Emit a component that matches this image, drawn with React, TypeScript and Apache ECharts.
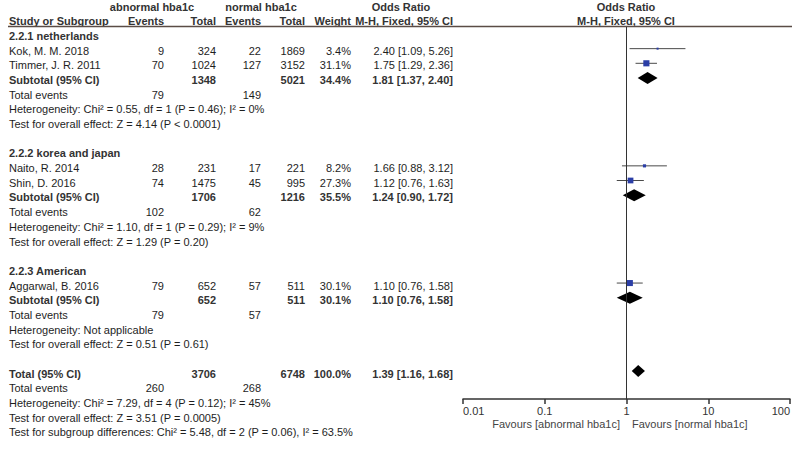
import React, { useEffect, useRef } from "react";
import * as echarts from "echarts";

// ---- data ----
const subgroupNames = ["2.2.1 netherlands", "2.2.2 korea and japan", "2.2.3 American"];
const subgroupHeaderRows = [0, 8, 16];

const studyNames = ["Kok, M. M. 2018", "Timmer, J. R. 2011", "Naito, R. 2014", "Shin, D. 2016", "Aggarwal, B. 2016"];
const studyRows = [1, 2, 9, 10, 17];
const abnEvents = [9, 70, 28, 74, 79];
const abnTotal = [324, 1024, 231, 1475, 652];
const norEvents = [22, 127, 17, 45, 57];
const norTotal = [1869, 3152, 221, 995, 511];
const studyWeights = [3.4, 31.1, 8.2, 27.3, 30.1];
const studyOR = [2.4, 1.75, 1.66, 1.12, 1.1];
const studyLo = [1.09, 1.29, 0.88, 0.76, 0.76];
const studyHi = [5.26, 2.36, 3.12, 1.63, 1.58];

const subRows = [3, 11, 18];
const subAbnTotal = [1348, 1706, 652];
const subNorTotal = [5021, 1216, 511];
const subWeights = [34.4, 35.5, 30.1];
const subOR = [1.81, 1.24, 1.1];
const subLo = [1.37, 0.9, 0.76];
const subHi = [2.4, 1.72, 1.58];
const subAbnEvents = [79, 102, 79];
const subNorEvents = [149, 62, 57];
const subHet = [
  "Heterogeneity: Chi² = 0.55, df = 1 (P = 0.46); I² = 0%",
  "Heterogeneity: Chi² = 1.10, df = 1 (P = 0.29); I² = 9%",
  "Heterogeneity: Not applicable",
];
const subTest = [
  "Test for overall effect: Z = 4.14 (P < 0.0001)",
  "Test for overall effect: Z = 1.29 (P = 0.20)",
  "Test for overall effect: Z = 0.51 (P = 0.61)",
];

const totalRow = 23;
const totalAbnTotal = 3706;
const totalNorTotal = 6748;
const totalWeight = 100.0;
const totalOR = 1.39;
const totalLo = 1.16;
const totalHi = 1.68;
const totalAbnEvents = 260;
const totalNorEvents = 268;
const totalTexts = [
  "Heterogeneity: Chi² = 7.29, df = 4 (P = 0.12); I² = 45%",
  "Test for overall effect: Z = 3.51 (P = 0.0005)",
  "Test for subgroup differences: Chi² = 5.48, df = 2 (P = 0.06), I² = 63.5%",
];

const tickLabels = ["0.01", "0.1", "1", "10", "100"];
const favourLeft = "Favours [abnormal hba1c]";
const favourRight = "Favours [normal hba1c]";

// ---- layout helpers ----
const FONT = "Liberation Sans, Arial, sans-serif";
const TXT = "#1e1e1e";
const textY = (i: number) => 36 + 14.68 * i;
const MARK_Y0 = 34;
const MARK_STEP = 14.65;
const GRID_TOP = 27;
const GRID_BOTTOM_Y = 399;

const COL = { study: 9, abnEv: 164, abnTot: 216, norEv: 261, norTot: 305, weight: 351, or: 453 };

function t(x: number, y: number, text: string, align: string = "left", bold = false, color = TXT, size = 11) {
  return {
    type: "text",
    x,
    y,
    silent: true,
    style: {
      text,
      x: 0,
      y: 0,
      align,
      verticalAlign: "middle",
      fill: color,
      font: `${bold ? "bold " : ""}${size}px ${FONT}`,
    },
  };
}

const fmtOR = (o: number, l: number, h: number) => `${o.toFixed(2)} [${l.toFixed(2)}, ${h.toFixed(2)}]`;

function buildGraphics() {
  const g: any[] = [];
  // header
  g.push(t(152, 7, "abnormal hba1c", "center", true, "#333"));
  g.push(t(261, 7, "normal hba1c", "center", true, "#333"));
  g.push(t(401, 7, "Odds Ratio", "center", true, "#333"));
  g.push(t(626, 7, "Odds Ratio", "center", true, "#333"));
  g.push(t(COL.study, 21, "Study or Subgroup", "left", true, "#333"));
  g.push(t(COL.abnEv, 21, "Events", "right", true, "#333"));
  g.push(t(COL.abnTot, 21, "Total", "right", true, "#333"));
  g.push(t(COL.norEv, 21, "Events", "right", true, "#333"));
  g.push(t(COL.norTot, 21, "Total", "right", true, "#333"));
  g.push(t(COL.weight, 21, "Weight", "right", true, "#333"));
  g.push(t(COL.or, 21, "M-H, Fixed, 95% CI", "right", true, "#333"));
  g.push(t(626, 21, "M-H, Fixed, 95% CI", "center", true, "#333"));
  g.push({
    type: "line",
    silent: true,
    shape: { x1: 8, y1: 26.5, x2: 792, y2: 26.5 },
    style: { stroke: "#5a4c46", lineWidth: 1.5 },
  });

  subgroupNames.forEach((n, k) => {
    g.push(t(COL.study, textY(subgroupHeaderRows[k]), n, "left", true, "#333"));
  });
  studyNames.forEach((n, k) => {
    const y = textY(studyRows[k]);
    g.push(t(COL.study, y, n));
    g.push(t(COL.abnEv, y, String(abnEvents[k]), "right"));
    g.push(t(COL.abnTot, y, String(abnTotal[k]), "right"));
    g.push(t(COL.norEv, y, String(norEvents[k]), "right"));
    g.push(t(COL.norTot, y, String(norTotal[k]), "right"));
    g.push(t(COL.weight, y, `${studyWeights[k].toFixed(1)}%`, "right"));
    g.push(t(COL.or, y, fmtOR(studyOR[k], studyLo[k], studyHi[k]), "right"));
  });
  subRows.forEach((r, k) => {
    const y = textY(r);
    g.push(t(COL.study, y, "Subtotal (95% CI)", "left", true, "#333"));
    g.push(t(COL.abnTot, y, String(subAbnTotal[k]), "right", true, "#333"));
    g.push(t(COL.norTot, y, String(subNorTotal[k]), "right", true, "#333"));
    g.push(t(COL.weight, y, `${subWeights[k].toFixed(1)}%`, "right", true, "#333"));
    g.push(t(COL.or, y, fmtOR(subOR[k], subLo[k], subHi[k]), "right", true, "#333"));
    const y1 = textY(r + 1);
    g.push(t(COL.study, y1, "Total events"));
    g.push(t(COL.abnEv, y1, String(subAbnEvents[k]), "right"));
    g.push(t(COL.norEv, y1, String(subNorEvents[k]), "right"));
    g.push(t(COL.study, textY(r + 2), subHet[k]));
    g.push(t(COL.study, textY(r + 3), subTest[k]));
  });
  {
    const y = textY(totalRow);
    g.push(t(COL.study, y, "Total (95% CI)", "left", true, "#333"));
    g.push(t(COL.abnTot, y, String(totalAbnTotal), "right", true, "#333"));
    g.push(t(COL.norTot, y, String(totalNorTotal), "right", true, "#333"));
    g.push(t(COL.weight, y, `${totalWeight.toFixed(1)}%`, "right", true, "#333"));
    g.push(t(COL.or, y, fmtOR(totalOR, totalLo, totalHi), "right", true, "#333"));
    const y1 = textY(totalRow + 1);
    g.push(t(COL.study, y1, "Total events"));
    g.push(t(COL.abnEv, y1, String(totalAbnEvents), "right"));
    g.push(t(COL.norEv, y1, String(totalNorEvents), "right"));
    totalTexts.forEach((s, k) => g.push(t(COL.study, textY(totalRow + 2 + k), s)));
  }
  g.push(t(620, 424, favourLeft, "right", false, "#444"));
  g.push(t(632, 424, favourRight, "left", false, "#444"));
  return g;
}

export default function App() {
  const ref = useRef<HTMLDivElement>(null);
  useEffect(() => {
    if (!ref.current) return;
    const chart = echarts.init(ref.current, null, { renderer: "svg" });

    // [or, lo, hi, row, weight, kind] kind 0 = study square, 1 = diamond
    const marks: number[][] = [];
    studyOR.forEach((o, k) => marks.push([o, studyLo[k], studyHi[k], studyRows[k], studyWeights[k], 0]));
    subOR.forEach((o, k) => marks.push([o, subLo[k], subHi[k], subRows[k], subWeights[k], 1]));
    marks.push([totalOR, totalLo, totalHi, totalRow, totalWeight, 1]);

    const yMin = (GRID_TOP - MARK_Y0) / MARK_STEP;
    const yMax = (GRID_BOTTOM_Y - MARK_Y0) / MARK_STEP;

    chart.setOption({
      animation: false,
      backgroundColor: "#fff",
      grid: { left: 463, right: 10, top: GRID_TOP, bottom: 450 - GRID_BOTTOM_Y },
      xAxis: {
        type: "log",
        logBase: 10,
        min: 0.01,
        max: 100,
        position: "bottom",
        splitLine: { show: false },
        minorTick: { show: false },
        axisLine: { show: true, onZero: false, lineStyle: { color: "#333", width: 1.5 } },
        axisTick: { show: true, length: 5, lineStyle: { color: "#333", width: 1.5 } },
        axisLabel: {
          color: "#333",
          fontFamily: FONT,
          fontSize: 11,
          margin: 6,
          alignMinLabel: "left",
          alignMaxLabel: "right",
          formatter: (v: number) => {
            const idx = Math.round(Math.log10(v)) + 2;
            return tickLabels[idx] ?? String(v);
          },
        },
      },
      yAxis: {
        type: "value",
        inverse: true,
        min: yMin,
        max: yMax,
        show: false,
      },
      series: [
        {
          type: "custom",
          data: marks,
          renderItem: (params: any, api: any) => {
            const row = api.value(3);
            const c = api.coord([api.value(0), row]);
            const l = api.coord([api.value(1), row]);
            const h = api.coord([api.value(2), row]);
            const kind = api.value(5);
            if (kind === 1) {
              const hh = 6;
              return {
                type: "polygon",
                shape: { points: [[l[0], c[1]], [c[0], c[1] - hh], [h[0], c[1]], [c[0], c[1] + hh]] },
                style: { fill: "#000" },
              };
            }
            const s = 1.1 * Math.sqrt(api.value(4));
            return {
              type: "group",
              children: [
                {
                  type: "line",
                  shape: { x1: l[0], y1: c[1], x2: h[0], y2: c[1] },
                  style: { stroke: "#4a4a4a", lineWidth: 1 },
                },
                {
                  type: "rect",
                  shape: { x: c[0] - s / 2, y: c[1] - s / 2, width: s, height: s },
                  style: { fill: "#2b3ea6" },
                },
              ],
            };
          },
          markLine: {
            silent: true,
            symbol: "none",
            label: { show: false },
            lineStyle: { color: "#333", width: 1, type: "solid" },
            data: [{ xAxis: 1 }],
          },
        },
      ],
      graphic: buildGraphics(),
    });
    return () => chart.dispose();
  }, []);
  return (
    <div
      ref={ref}
      style={{ position: "fixed", left: 0, top: 0, width: 800, height: 450, background: "#fff" }}
    />
  );
}
